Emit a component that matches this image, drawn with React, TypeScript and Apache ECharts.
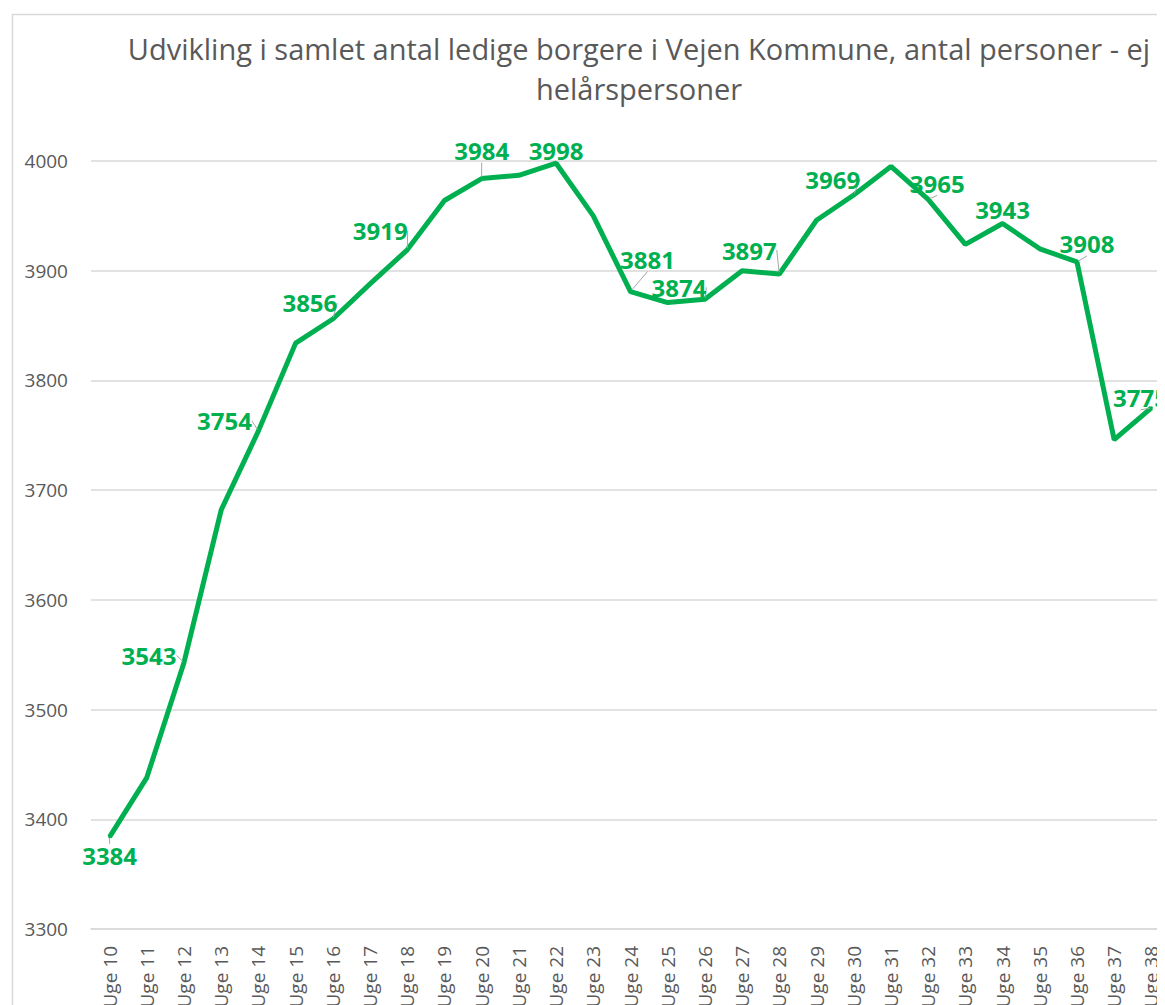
import React, { useEffect, useRef } from "react";
import * as echarts from "echarts";

const categories = [
  "Uge 10", "Uge 11", "Uge 12", "Uge 13", "Uge 14", "Uge 15", "Uge 16", "Uge 17",
  "Uge 18", "Uge 19", "Uge 20", "Uge 21", "Uge 22", "Uge 23", "Uge 24", "Uge 25",
  "Uge 26", "Uge 27", "Uge 28", "Uge 29", "Uge 30", "Uge 31", "Uge 32", "Uge 33",
  "Uge 34", "Uge 35", "Uge 36", "Uge 37", "Uge 38",
];

const values = [
  3384, 3438, 3543, 3682, 3754, 3834, 3856, 3888, 3919, 3964, 3984, 3987, 3998, 3950,
  3881, 3871, 3874, 3900, 3897, 3946, 3969, 3995, 3965, 3924, 3943, 3920, 3908, 3746, 3775,
];

// indices of points that carry a data label
const labelledIndices = [0, 2, 4, 6, 8, 10, 12, 14, 16, 18, 20, 22, 24, 26, 28];

// label centre offsets (dx, dy) relative to the point
const labelOffsets: Record<number, [number, number]> = {
  0: [0, 19],
  2: [-35, -7],
  4: [-34, -10],
  6: [-23, -16],
  8: [-27, -19],
  10: [0, -28],
  12: [0, -13],
  14: [17, -32],
  16: [-26, -12],
  18: [-30, -24],
  20: [-21, -16],
  22: [9, -16],
  24: [0, -14],
  26: [10, -18],
  28: [-11, -10],
};

const titleText =
  "Udvikling i samlet antal ledige borgere i Vejen Kommune, antal personer - ej\nhelårspersoner";

const GREEN = "#00b050";
const GRAY_TEXT = "#595959";
const GRID_GRAY = "#d9d9d9";

export default function App() {
  const ref = useRef<HTMLDivElement>(null);

  useEffect(() => {
    if (!ref.current) return;
    const chart = echarts.init(ref.current, undefined, { renderer: "svg" });
    const seriesData = values.map((v, i) => ({
      value: v,
      label: { show: labelledIndices.includes(i) },
    }));
    chart.setOption({
      animation: false,
      backgroundColor: "#ffffff",
      textStyle: { fontFamily: "Open Sans" },
      title: {
        text: titleText,
        left: 626,
        top: 15,
        textAlign: "center",
        textStyle: {
          fontFamily: "Open Sans",
          fontSize: 29,
          fontWeight: "normal",
          color: GRAY_TEXT,
          lineHeight: 40,
        },
      },
      graphic: [
        {
          type: "rect",
          left: 2,
          top: 4,
          shape: { width: 2000, height: 2000 },
          style: { fill: "none", stroke: GRID_GRAY, lineWidth: 1.5 },
          z: -1,
        },
      ],
      grid: { left: 83, top: 153, width: 1079, height: 768, containLabel: false },
      xAxis: {
        type: "category",
        data: categories,
        boundaryGap: true,
        axisTick: { show: false },
        axisLine: { show: true, lineStyle: { color: GRID_GRAY, width: 1.5 } },
        axisLabel: {
          rotate: 90,
          interval: 0,
          fontSize: 19,
          color: GRAY_TEXT,
          fontFamily: "Open Sans",
          margin: 17,
        },
      },
      yAxis: {
        type: "value",
        min: 3300,
        max: 4000,
        interval: 100,
        axisLine: { show: false },
        axisTick: { show: false },
        splitLine: { lineStyle: { color: GRID_GRAY, width: 1.5 } },
        axisLabel: {
          fontSize: 19,
          color: GRAY_TEXT,
          fontFamily: "Open Sans",
          margin: 23,
          formatter: (v: number) => String(v),
        },
      },
      series: [
        {
          type: "line",
          data: seriesData,
          symbol: "circle",
          symbolSize: 3,
          showSymbol: true,
          itemStyle: { color: GREEN },
          lineStyle: { color: GREEN, width: 5 },
          label: {
            show: false,
            position: "inside",
            color: GREEN,
            fontFamily: "Open Sans",
            fontWeight: "bold",
            fontSize: 24,
          },
          labelLine: {
            show: true,
            lineStyle: { color: "#a6a6a6", width: 1 },
          },
          labelLayout: (params: any) => {
            const off = labelOffsets[params.dataIndex];
            if (!off) return {};
            return { dx: off[0], dy: off[1] };
          },
        },
      ],
    });
    return () => chart.dispose();
  }, []);

  return (
    <div style={{ width: 1157, height: 997, overflow: "hidden" }}>
      <div ref={ref} style={{ width: 1260, height: 1100 }} />
    </div>
  );
}
